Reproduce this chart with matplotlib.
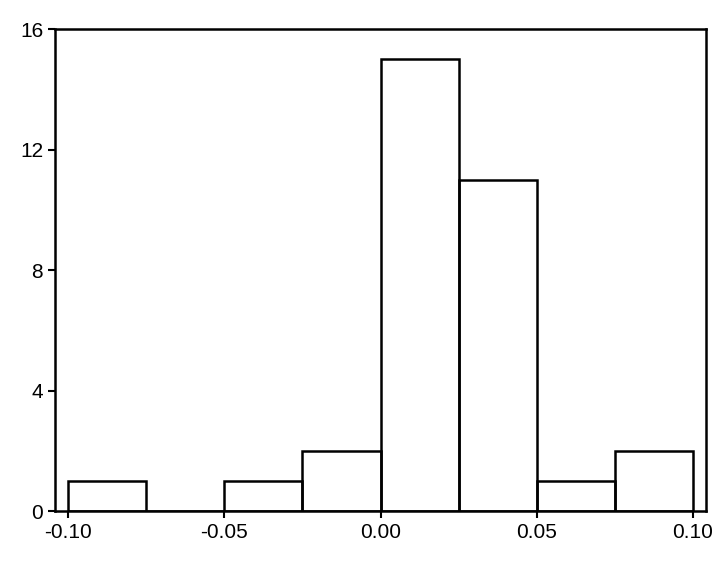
import numpy as np
import matplotlib.pyplot as plt

# histogram bins (width 0.025) and counts
bin_edges = [-0.100, -0.075, -0.050, -0.025, 0.000, 0.025, 0.050, 0.075, 0.100]
counts = [1, 0, 1, 2, 15, 11, 1, 2]
x_ticks = [-0.10, -0.05, 0.00, 0.05, 0.10]
y_ticks = [0, 4, 8, 12, 16]

plt.rcParams['font.family'] = ['Liberation Sans', 'DejaVu Sans']

fig = plt.figure(figsize=(7.23, 5.61), dpi=100)
ax = fig.add_axes([0.0761, 0.0891, 0.9004, 0.8589])

edges = np.array(bin_edges)
widths = np.diff(edges)
ax.bar(edges[:-1], counts, width=widths, align='edge', fill=False,
       edgecolor='black', linewidth=1.8)

ax.set_xlim(-0.1042, 0.1042)
ax.set_ylim(0, 16)
ax.set_xticks(x_ticks)
ax.set_xticklabels([f"{t:.2f}" for t in x_ticks])
ax.set_yticks(y_ticks)
ax.tick_params(direction='out', length=5, width=1.5, labelsize=15, colors='black')
for s in ax.spines.values():
    s.set_linewidth(1.8)

fig.savefig('out.png', dpi=100)
